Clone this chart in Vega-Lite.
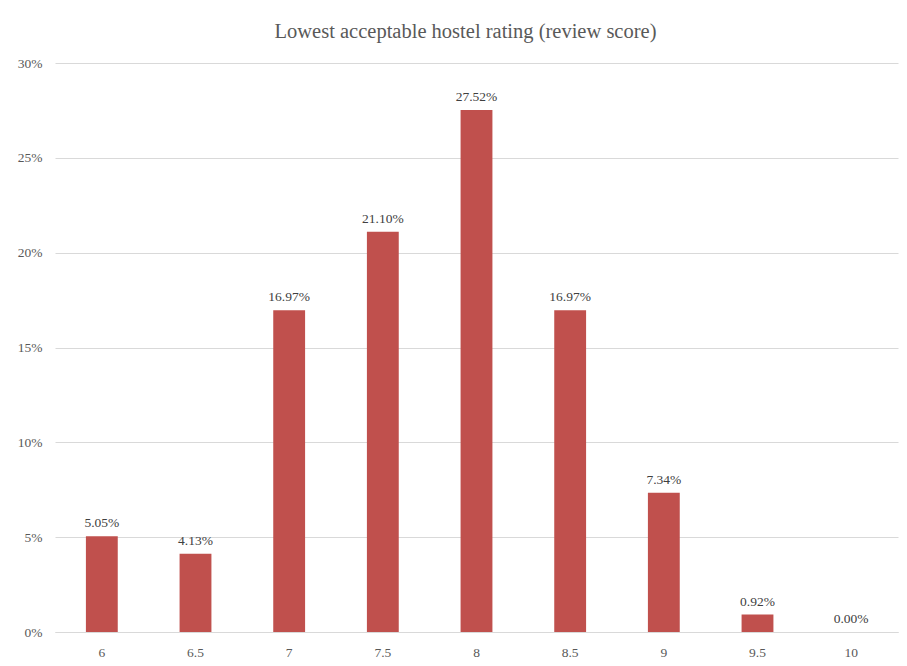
{
  "$schema": "https://vega.github.io/schema/vega-lite/v6.json",
  "width": 843,
  "height": 569,
  "autosize": {"type": "none"},
  "padding": {"left": 55, "top": 63, "right": 9, "bottom": 34},
  "background": "white",
  "title": {
    "text": "Lowest acceptable hostel rating (review score)",
    "font": "Liberation Serif",
    "fontSize": 20.5,
    "fontWeight": "normal",
    "color": "#595959",
    "anchor": "middle",
    "dx": -11,
    "offset": 14
  },
  "data": {
    "values": [
      {"score": "6", "share": 0.0505},
      {"score": "6.5", "share": 0.0413},
      {"score": "7", "share": 0.1697},
      {"score": "7.5", "share": 0.2110},
      {"score": "8", "share": 0.2752},
      {"score": "8.5", "share": 0.1697},
      {"score": "9", "share": 0.0734},
      {"score": "9.5", "share": 0.0092},
      {"score": "10", "share": 0.0}
    ]
  },
  "encoding": {
    "x": {
      "field": "score",
      "type": "ordinal",
      "sort": null,
      "scale": {"paddingInner": 0.66, "paddingOuter": 0.33},
      "axis": {
        "title": null,
        "labelAngle": 0,
        "labelFont": "Liberation Serif",
        "labelFontSize": 13.5,
        "labelColor": "#595959",
        "ticks": false,
        "domainColor": "#d9d9d9",
        "labelPadding": 13
      }
    },
    "y": {
      "field": "share",
      "type": "quantitative",
      "scale": {"domain": [0, 0.3]},
      "axis": {
        "title": null,
        "format": ".0%",
        "values": [0, 0.05, 0.1, 0.15, 0.2, 0.25, 0.3],
        "labelFont": "Liberation Serif",
        "labelFontSize": 13.5,
        "labelColor": "#595959",
        "ticks": false,
        "domain": false,
        "gridColor": "#d9d9d9",
        "labelPadding": 13
      }
    }
  },
  "layer": [
    {"mark": {"type": "bar", "color": "#C0504D"}},
    {
      "mark": {
        "type": "text",
        "dy": -13,
        "font": "Liberation Serif",
        "fontSize": 13.5,
        "color": "#404040"
      },
      "encoding": {"text": {"field": "share", "type": "quantitative", "format": ".2%"}}
    }
  ],
  "config": {"view": {"stroke": null}}
}
